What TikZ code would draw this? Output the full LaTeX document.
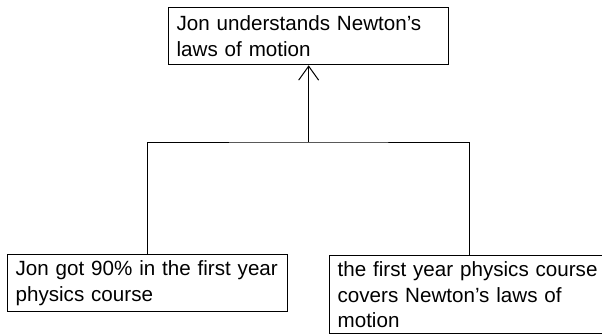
\documentclass[tikz,border=0pt]{standalone}
\usepackage{fontspec}
\setmainfont{Liberation Sans}
\usetikzlibrary{arrows.meta,positioning}

\begin{document}
\begin{tikzpicture}[x=1pt,y=-1pt,
    box/.style={draw,line width=1.3pt,align=left,anchor=north west,inner xsep=8pt,inner ysep=0pt,
      text width=264pt,font=\fontsize{20.6}{25.5}\selectfont},
    link/.style={line width=1pt}]
  \useasboundingbox (0,0) rectangle (602,335);
  % the claim on top
  \node[box,minimum height=57pt] (claim) at (168,7) {Jon understands Newton's\\laws of motion};
  % the two reasons below
  \node[box,minimum height=57pt] (grounds) at (7,254) {Jon got 90\% in the first year\\physics course};
  \node[box,minimum height=78pt] (warrant) at (329,255) {the first year physics course\\covers Newton's laws of\\motion};
  % join them
  \coordinate (join) at (claim.south |- 0,142);
  \draw[link] (grounds.north) |- (join) -| (warrant.north);
  \draw[link,-{Straight Barb[length=14pt,width=20pt]}] (join) -- (claim.south);
\end{tikzpicture}
\end{document}
